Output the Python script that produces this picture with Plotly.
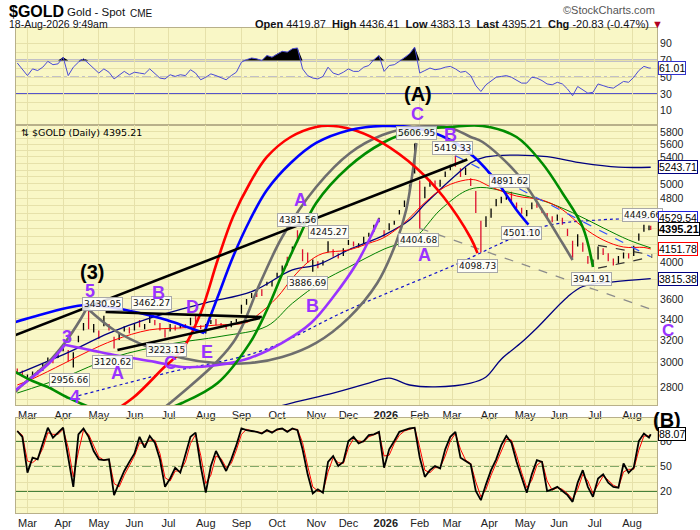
import numpy as np
import plotly.graph_objects as go

# ---------------- data ----------------
dates = [
 "2025-02-21","2025-02-26",
 "2025-03-03","2025-03-06","2025-03-11","2025-03-14","2025-03-19","2025-03-24","2025-03-27",
 "2025-04-01","2025-04-04","2025-04-09","2025-04-14","2025-04-17","2025-04-23","2025-04-28",
 "2025-05-01","2025-05-06","2025-05-09","2025-05-14","2025-05-19","2025-05-22","2025-05-28",
 "2025-06-02","2025-06-05","2025-06-10","2025-06-13","2025-06-18","2025-06-24","2025-06-27",
 "2025-07-02","2025-07-08","2025-07-11","2025-07-16","2025-07-21","2025-07-24","2025-07-29",
 "2025-08-01","2025-08-06","2025-08-11","2025-08-14","2025-08-19","2025-08-22","2025-08-27",
 "2025-09-02","2025-09-05","2025-09-10","2025-09-15","2025-09-18","2025-09-23","2025-09-26",
 "2025-10-01","2025-10-06","2025-10-09","2025-10-14","2025-10-17","2025-10-22","2025-10-27","2025-10-30",
 "2025-11-04","2025-11-07","2025-11-12","2025-11-17","2025-11-20","2025-11-25",
 "2025-12-01","2025-12-04","2025-12-09","2025-12-12","2025-12-17","2025-12-22","2025-12-26","2025-12-31",
 "2026-01-06","2026-01-09","2026-01-14","2026-01-20","2026-01-23","2026-01-28",
 "2026-02-02","2026-02-05","2026-02-10","2026-02-13","2026-02-19","2026-02-24","2026-02-27",
 "2026-03-04","2026-03-09","2026-03-12","2026-03-17","2026-03-20","2026-03-25","2026-03-30",
 "2026-04-02","2026-04-08","2026-04-13","2026-04-16","2026-04-21","2026-04-24","2026-04-29",
 "2026-05-04","2026-05-07","2026-05-12","2026-05-15","2026-05-20","2026-05-26","2026-05-29",
 "2026-06-03","2026-06-08","2026-06-11","2026-06-16","2026-06-22","2026-06-25","2026-06-30",
 "2026-07-06","2026-07-09","2026-07-14","2026-07-17","2026-07-22","2026-07-27","2026-07-30",
 "2026-08-04","2026-08-07","2026-08-12","2026-08-17","2026-08-18"]

bar_open = [2935,2920,
 2870,2895,2930,2940,3000,3025,3045,
 3110,3100,2980,3190,3300,3420,3290,
 3280,3340,3330,3220,3210,3290,3310,
 3300,3370,3320,3370,3380,3350,3290,
 3300,3330,3320,3340,3350,3400,3330,
 3290,3360,3390,3350,3330,3330,3380,
 3460,3550,3620,3645,3670,3745,3750,
 3840,3900,4040,4120,4330,4130,4100,3930,
 4000,3980,4120,4090,4080,4080,
 4210,4220,4190,4230,4310,4370,4490,4370,
 4390,4460,4590,4690,4910,5180,
 5000,4850,4980,5020,4980,5110,5220,
 5350,5200,5150,5060,4880,4450,4440,
 4560,4700,4760,4800,4860,4720,4650,
 4580,4660,4720,4650,4580,4550,4510,
 4530,4390,4230,4200,4220,4060,3970,
 4050,4140,4090,4030,4000,4050,4090,
 4080,4260,4370,4390,4419.87]
bar_high = [2950,2935,
 2900,2925,2935,2990,3045,3035,3090,
 3150,3110,3090,3240,3360,3500,3350,
 3290,3430,3350,3230,3260,3330,3320,
 3360,3390,3350,3450,3390,3360,3300,
 3350,3340,3350,3350,3410,3430,3340,
 3350,3390,3400,3360,3340,3380,3400,
 3540,3600,3660,3660,3700,3780,3790,
 3880,3960,4060,4180,4380,4150,4110,4030,
 4010,4020,4245,4150,4100,4160,
 4260,4240,4220,4300,4350,4450,4540,4380,
 4470,4500,4640,4770,4990,5610,
 5050,4960,5060,5050,5060,5180,5280,
 5420,5230,5240,5080,4900,4500,4560,
 4660,4790,4820,4880,4890,4740,4670,
 4640,4740,4740,4660,4600,4560,4580,
 4540,4400,4250,4330,4230,4070,4030,
 4180,4160,4100,4040,4070,4110,4100,
 4190,4340,4450,4440,4436.41]
bar_low = [2905,2885,
 2855,2880,2895,2930,2995,2995,3040,
 3100,3010,2960,3180,3290,3300,3270,
 3210,3330,3290,3125,3200,3280,3260,
 3290,3320,3300,3360,3340,3290,3225,
 3280,3290,3310,3310,3340,3350,3300,
 3260,3350,3340,3320,3300,3320,3370,
 3450,3540,3610,3620,3630,3740,3730,
 3830,3890,3960,4100,4230,4010,3990,3890,
 3930,3960,4110,4060,4040,4070,
 4200,4180,4170,4220,4300,4360,4480,4300,
 4380,4450,4580,4680,4900,5150,
 4400,4800,4960,4950,4960,5100,5200,
 5250,5100,5130,4970,4600,4110,4420,
 4540,4690,4730,4780,4760,4660,4590,
 4560,4650,4670,4600,4530,4480,4500,
 4450,4310,4050,4180,4120,3980,3945,
 4030,4080,4010,3960,3980,4040,4040,
 4070,4250,4360,4380,4383.13]
bar_close = [2925,2915,
 2885,2910,2915,2980,3030,3015,3080,
 3125,3035,3080,3215,3330,3370,3320,
 3240,3400,3320,3170,3240,3310,3285,
 3345,3350,3330,3420,3360,3300,3270,
 3330,3300,3340,3330,3395,3365,3310,
 3340,3375,3350,3335,3315,3370,3390,
 3530,3585,3640,3640,3650,3765,3760,
 3865,3950,3980,4150,4250,4100,4010,4000,
 3950,4000,4190,4080,4070,4140,
 4230,4200,4210,4290,4330,4440,4520,4330,
 4460,4490,4620,4750,4960,5350,
 4650,4880,5030,4990,5040,5150,5240,
 5300,5150,5180,5000,4640,4400,4520,
 4620,4760,4790,4820,4790,4690,4620,
 4610,4720,4700,4620,4560,4510,4560,
 4470,4330,4100,4310,4150,4000,3990,
 4160,4100,4040,3990,4050,4080,4060,
 4170,4320,4400,4416,4395.21]

rsi_vals = [67,60,
 52,60,58,62,69,65,66,
 74,52,62,68,72,66,61,
 55,60,56,48,52,57,53,
 56,55,54,60,55,49,48,
 53,51,53,52,59,55,47,
 50,54,52,49,47,52,56,
 68,71,73,72,70,76,74,
 78,81,80,84,85,60,52,49,
 48,51,62,55,53,56,
 60,57,57,62,64,71,76,57,
 64,65,69,73,78,86,
 55,58,61,59,60,62,63,
 60,56,57,52,40,33,41,
 46,50,51,52,50,46,43,
 43,50,49,46,42,41,44,
 42,36,28,39,35,31,32,
 42,40,38,37,41,45,44,
 50,58,63,61,61.01]

stoch_k = [92,85,
 42,60,58,78,96,84,90,
 96,60,25,88,95,85,68,
 58,57,58,15,30,44,55,
 65,85,72,86,78,58,25,
 35,48,42,62,85,90,50,
 18,50,68,55,44,58,75,
 95,93,92,91,89,93,90,
 94,95,91,95,93,70,40,17,
 22,18,55,62,50,55,
 80,85,77,80,87,88,91,48,
 70,80,91,93,95,96,
 60,37,45,50,47,70,85,
 91,60,56,52,20,9,28,
 45,58,75,86,78,55,35,
 18,40,57,55,20,22,25,
 20,15,7,30,45,25,13,
 35,40,30,25,24,53,42,
 48,80,89,84,88.07]
stoch_d = [92,87,
 56,54,59,71,90,88,88,
 94,72,37,67,93,88,74,
 61,57,58,29,25,39,51,
 62,78,76,81,81,65,36,
 32,44,44,55,77,88,63,
 29,39,62,59,48,53,69,
 88,94,92,91,90,92,91,
 93,95,92,94,94,78,50,25,
 20,19,43,60,54,53,
 72,83,80,79,85,88,90,62,
 63,77,87,92,94,96,
 72,45,42,48,48,62,80,
 89,70,57,53,31,13,22,
 39,54,69,82,81,63,42,
 24,33,51,56,32,21,24,
 22,17,10,22,40,32,17,
 28,38,33,27,24,43,46,
 46,69,86,86,87]

# moving averages / bands (read at selected dates)
red_ma_dates = ["2025-02-21","2025-03-06","2025-04-01","2025-04-23","2025-05-14","2025-06-13","2025-07-11",
 "2025-08-11","2025-09-05","2025-09-15","2025-10-01","2025-10-14","2025-10-27","2025-11-07","2025-12-01",
 "2025-12-17","2025-12-31","2026-01-20","2026-02-05","2026-02-24","2026-03-12","2026-03-20","2026-04-02",
 "2026-04-24","2026-05-15","2026-06-03","2026-06-22","2026-07-09","2026-07-27","2026-08-12","2026-08-18"]
red_ma_vals = [2815,2865,2990,3100,3200,3295,3313,3340,3365,3430,3615,3820,3995,4100,4140,4220,4290,4475,
 4740,4960,5056,5056,4956,4830,4775,4645,4420,4260,4175,4170,4151.78]

green_ma_dates = ["2025-02-21","2025-04-01","2025-05-14","2025-07-02","2025-08-14","2025-09-23","2025-10-14",
 "2025-11-07","2025-12-01","2025-12-31","2026-01-28","2026-02-19","2026-03-12","2026-03-25","2026-04-16",
 "2026-05-15","2026-06-11","2026-07-09","2026-07-30","2026-08-18"]
green_ma_vals = [2751,2875,3048,3165,3235,3330,3555,3790,3940,4150,4290,4641,4900,4950,4890,4770,4605,
 4410,4260,4165]

upper_band_dates = ["2025-02-21","2025-04-04","2025-05-09","2025-06-13","2025-08-01","2025-09-10","2025-10-14",
 "2025-11-04","2025-12-01","2025-12-31","2026-01-23","2026-02-05","2026-02-19","2026-03-04","2026-03-17",
 "2026-03-30","2026-04-24","2026-05-20","2026-06-22","2026-07-22","2026-08-18"]
upper_band_vals = [2905,3090,3265,3408,3560,3675,3910,3970,4140,4320,4510,4720,4920,5120,5310,5400,5430,
 5405,5305,5245,5243.71]

lower_band_dates = ["2025-08-27","2025-09-18","2025-10-14","2025-11-17","2025-12-17","2026-01-06","2026-01-23",
 "2026-02-13","2026-03-17","2026-03-30","2026-04-13","2026-04-29","2026-05-12","2026-06-08","2026-06-22",
 "2026-07-17","2026-08-18"]
lower_band_vals = [2540,2610,2675,2750,2830,2870,2815,2800,2830,2880,3030,3180,3313,3620,3730,3780,3815.38]

mid_band_dates = ["2025-04-14","2025-07-02","2025-09-18","2025-12-01","2026-02-27","2026-05-15","2026-07-06",
 "2026-08-18"]
mid_band_vals = [2730,2920,3105,3490,3945,4420,4510,4529.54]

# cycle arcs drawn on the chart
red_arc_dates = ["2025-05-01","2025-05-30","2025-06-26","2025-07-14","2025-07-29","2025-08-12","2025-08-25",
 "2025-09-09","2025-09-23","2025-10-13","2025-11-03","2025-11-17","2025-12-08","2025-12-30","2026-01-29",
 "2026-02-23","2026-03-17","2026-03-23"]
red_arc_vals = [2547,2712,2955,3111,3458,4023,4549,5013,5400,5717,5883,5900,5816,5620,5232,4816,4284,4103]

blue_arc1_dates = ["2025-02-20","2025-03-06","2025-04-03","2025-04-22","2025-05-09","2025-06-05","2025-06-30",
 "2025-07-17","2025-07-31"]
blue_arc1_vals = [3370,3418,3508,3537,3518,3458,3389,3322,3266]

blue_arc2_dates = ["2025-07-31","2025-08-12","2025-08-25","2025-09-09","2025-09-23","2025-10-13","2025-11-03",
 "2025-12-02","2025-12-30","2026-01-29","2026-02-27","2026-03-19","2026-04-09","2026-04-24","2026-05-05"]
blue_arc2_vals = [3266,3619,4058,4510,4914,5307,5620,5832,5900,5866,5668,5400,5013,4641,4450]

green_arc_dates = ["2025-02-20","2025-03-06","2025-03-19","2025-04-03","2025-05-01","2025-05-30","2025-06-13",
 "2025-07-14","2025-08-12","2025-09-09","2025-09-23","2025-10-07","2025-10-20","2025-11-03","2025-12-01",
 "2025-12-30","2026-01-29","2026-02-27","2026-03-26","2026-04-24","2026-05-15","2026-06-03","2026-06-22",
 "2026-06-30"]
green_arc_vals = [2921,2847,2799,2720,2620,2584,2590,2674,2831,3175,3487,3910,4296,4734,5247,5620,5832,
 5883,5900,5717,5307,4872,4417,3943]

gray_arc1_dates = ["2025-02-20","2025-02-25","2025-03-19","2025-04-02","2025-04-15","2025-04-22"]
gray_arc1_vals = [2760,2804,2999,3175,3389,3508]

gray_arc2_dates = ["2025-04-22","2025-05-14","2025-06-12","2025-07-14","2025-08-11","2025-09-09","2025-10-06",
 "2025-11-03","2025-12-01","2025-12-24","2026-01-12","2026-01-21","2026-01-27","2026-01-29"]
gray_arc2_vals = [3508,3294,3138,3041,2997,2997,3049,3175,3408,3767,4223,4641,5202,5620]

gray_arc3_dates = ["2025-06-06","2025-06-13","2025-07-14","2025-08-25","2025-09-17","2025-10-06","2025-11-03",
 "2025-12-02","2025-12-30","2026-01-29","2026-02-27","2026-03-17","2026-03-26","2026-04-24","2026-05-15",
 "2026-06-03","2026-06-11"]
gray_arc3_vals = [2547,2567,2751,3175,3767,4296,4956,5462,5750,5883,5866,5717,5636,5158,4641,4223,4023]

purple_arc1_dates = ["2025-02-20","2025-03-06","2025-03-20","2025-04-02"]
purple_arc1_vals = [2775,2880,3000,3157]

purple_arc2_dates = ["2025-04-02","2025-05-14","2025-06-18","2025-07-14","2025-08-12","2025-09-09","2025-10-06",
 "2025-10-29","2025-11-17","2025-12-08","2025-12-18","2025-12-26"]
purple_arc2_vals = [3157,3067,3007,2963,2980,3041,3175,3360,3619,3989,4296,4525]

# straight trend lines
trend_main_dates = ["2025-02-19","2026-03-13"];  trend_main_vals = [3240,5360]
trend_top_dates = ["2025-05-07","2025-09-18"];   trend_top_vals = [3467,3418]
trend_bot_dates = ["2025-05-16","2025-09-17"];   trend_bot_vals = [3111,3408]
blue_dash_dates = ["2026-03-04","2026-08-18"];   blue_dash_vals = [5420,4060]
gray_dash_dates = ["2026-02-02","2026-08-19"];   gray_dash_vals = [4404.68,3490]
tri_up_dates = ["2026-07-06","2026-08-19"];      tri_up_vals = [4195,4080]
tri_dn_dates = ["2026-07-06","2026-08-19"];      tri_dn_vals = [3930,4060]

month_ticks = ["2025-03-03","2025-04-01","2025-05-01","2025-06-02","2025-07-01","2025-08-01","2025-09-02",
 "2025-10-01","2025-11-03","2025-12-01","2026-01-02","2026-02-02","2026-03-02","2026-04-01","2026-05-01",
 "2026-06-01","2026-07-01","2026-08-03"]
month_labels = ["Mar","Apr","May","Jun","Jul","Aug","Sep","Oct","Nov","Dec","<b>2026</b>","Feb","Mar","Apr",
 "May","Jun","Jul","Aug"]

price_ticks = list(range(2700, 5901, 100))
price_labels = ["2800","3000","3200","3400","3600","4000","4800","5000","5400","5600","5800"]

holidays = ["2025-04-18","2025-05-26","2025-06-19","2025-07-04","2025-09-01","2025-11-27","2025-12-25",
 "2026-01-01","2026-01-19","2026-02-16","2026-04-03","2026-05-25","2026-06-19","2026-07-03"]

# ---------------- styling ----------------
BG = "#F9F7C6"
GRID = "#E6E1AA"
FRAME = "#B8B08A"
PURPLE = "#9933FF"
FONT = "Liberation Sans"

fig = go.Figure()
n = len(dates)

# RSI panel
fig.add_trace(go.Scatter(x=dates, y=[70] * n, xaxis="x", yaxis="y", mode="lines",
                         line=dict(width=0, color="rgba(0,0,0,0)"), hoverinfo="skip"))
fig.add_trace(go.Scatter(x=dates, y=np.maximum(np.array(rsi_vals, dtype=float), 70), xaxis="x", yaxis="y",
                         mode="lines", line=dict(width=0, color="rgba(0,0,0,0)"), fill="tonexty",
                         fillcolor="black", hoverinfo="skip"))
fig.add_trace(go.Scatter(x=dates, y=rsi_vals, xaxis="x", yaxis="y", mode="lines",
                         line=dict(color="#4A4AD6", width=1), hoverinfo="skip"))


def main_line(xs, ys, color, width, dash="solid", shape="linear"):
    fig.add_trace(go.Scatter(x=xs, y=ys, xaxis="x2", yaxis="y2", mode="lines",
                             line=dict(color=color, width=width, dash=dash, shape=shape), hoverinfo="skip"))


# overlays under the bars
main_line(mid_band_dates, mid_band_vals, "#1010CC", 1.2, "dot", "spline")
main_line(upper_band_dates, upper_band_vals, "#000080", 1.3, shape="spline")
main_line(lower_band_dates, lower_band_vals, "#000080", 1.3, shape="spline")
main_line(green_ma_dates, green_ma_vals, "#008000", 1, shape="spline")
main_line(red_ma_dates, red_ma_vals, "#FF0000", 1, shape="spline")

fig.add_trace(go.Ohlc(x=dates, open=bar_open, high=bar_high, low=bar_low, close=bar_close,
                      xaxis="x2", yaxis="y2", tickwidth=0.35, hoverinfo="skip",
                      increasing=dict(line=dict(color="#000000", width=1.3)),
                      decreasing=dict(line=dict(color="#DD1030", width=1.3))))

# dashed trend lines
main_line(blue_dash_dates, blue_dash_vals, "#3050FF", 1.2, "dash")
main_line(gray_dash_dates, gray_dash_vals, "#8C8C8C", 1.3, "dash")
main_line(tri_up_dates, tri_up_vals, "#333333", 1.2, "dash")
main_line(tri_dn_dates, tri_dn_vals, "#333333", 1.2, "dash")

# cycle arcs
W = 2.6
main_line(gray_arc1_dates, gray_arc1_vals, "#6E6E6E", W, shape="spline")
main_line(gray_arc2_dates, gray_arc2_vals, "#6E6E6E", W, shape="spline")
main_line(gray_arc3_dates, gray_arc3_vals, "#6E6E6E", W, shape="spline")
main_line(purple_arc1_dates, purple_arc1_vals, PURPLE, W, shape="spline")
main_line(purple_arc2_dates, purple_arc2_vals, PURPLE, W, shape="spline")
main_line(green_arc_dates, green_arc_vals, "#008C00", W, shape="spline")
main_line(red_arc_dates, red_arc_vals, "#FF0000", W, shape="spline")
main_line(blue_arc1_dates, blue_arc1_vals, "#0000FF", W, shape="spline")
main_line(blue_arc2_dates, blue_arc2_vals, "#0000FF", W, shape="spline")

# solid trend lines
main_line(trend_main_dates, trend_main_vals, "#000000", W)
main_line(trend_top_dates, trend_top_vals, "#000000", W)
main_line(trend_bot_dates, trend_bot_vals, "#000000", W)

# Stochastic panel
fig.add_trace(go.Scatter(x=dates, y=stoch_d, xaxis="x3", yaxis="y3", mode="lines",
                         line=dict(color="#FF0000", width=1), hoverinfo="skip"))
fig.add_trace(go.Scatter(x=dates, y=stoch_k, xaxis="x3", yaxis="y3", mode="lines",
                         line=dict(color="#000000", width=1.8), hoverinfo="skip"))

# ---------------- axes ----------------
x_range = ["2025-02-20 06:00", "2026-08-21 17:00"]
breaks = [dict(bounds=["sat", "mon"]), dict(values=holidays)]


def xaxis(anchor, labels):
    return dict(anchor=anchor, domain=[0, 1], type="date", range=x_range, rangebreaks=breaks,
                tickmode="array", tickvals=month_ticks, ticktext=month_labels, showticklabels=labels,
                ticks="", tickfont=dict(family=FONT, size=11, color="#222"),
                showgrid=True, gridcolor=GRID, gridwidth=1, zeroline=False,
                showline=True, mirror=True, linecolor=FRAME, linewidth=1, automargin=False,
                rangeslider=dict(visible=False))


main_text = [str(v) if str(v) in price_labels else "" for v in price_ticks]

yfont = dict(family=FONT, size=10.5, color="#222")
layout_axes = dict(
    xaxis=xaxis("y", False),
    xaxis2=xaxis("y2", True),
    xaxis3=xaxis("y3", True),
    yaxis=dict(domain=[0.8, 1.0], range=[-7, 108.8], side="right", anchor="x",
               tickmode="array", tickvals=list(range(10, 100, 10)),
               ticktext=["10", "", "30", "", "50", "", "70", "", "90"], tickfont=yfont, ticks="",
               showgrid=True, gridcolor=GRID, zeroline=False, showline=True, mirror=True,
               linecolor=FRAME, automargin=False),
    yaxis2=dict(domain=[0.2227, 0.8], type="log", range=[3.42466, 3.77206], side="right", anchor="x2",
                tickmode="array", tickvals=price_ticks, ticktext=main_text, tickfont=yfont, ticks="",
                showgrid=True, gridcolor=GRID, zeroline=False, showline=True, mirror=True,
                linecolor=FRAME, automargin=False),
    yaxis3=dict(domain=[0, 0.1959], range=[-6.4, 107.6], side="right", anchor="x3",
                tickmode="array", tickvals=list(range(0, 101, 10)),
                ticktext=["", "", "20", "", "", "50", "", "", "80", "", ""], tickfont=yfont, ticks="",
                showgrid=True, gridcolor=GRID, zeroline=False, showline=True, mirror=True,
                linecolor=FRAME, automargin=False),
)

# reference lines on oscillators
shapes = []
for v, d in [(70, "solid"), (50, "dashdot"), (30, "solid")]:
    shapes.append(dict(type="line", xref="x domain", x0=0, x1=1, yref="y", y0=v, y1=v, layer="below",
                       line=dict(color="#1F1FCC", width=1.4 if d == "solid" else 1.2, dash=d)))
for v, d in [(80, "solid"), (50, "dashdot"), (20, "solid")]:
    shapes.append(dict(type="line", xref="x3 domain", x0=0, x1=1, yref="y3", y0=v, y1=v, layer="below",
                       line=dict(color="#0B5A0B", width=1.4 if d == "solid" else 1.2, dash=d)))

# ---------------- annotations ----------------
ann = []


def paper(px, py):
    return (px - 16) / 641.0, (513 - py) / 485.0


def ptext(px, py, text, size, color="#111", bold=False, anchor="left", family=FONT):
    x, y = paper(px, py)
    ann.append(dict(xref="paper", yref="paper", x=x, y=y, xanchor=anchor, yanchor="middle",
                    text=("<b>%s</b>" % text) if bold else text, showarrow=False,
                    font=dict(family=family, size=size, color=color)))


# header
ptext(7, 12, "$GOLD", 16, "#000", True, family="Liberation Sans Narrow, Liberation Sans")
ptext(65, 12, "Gold - Spot", 11.5)
ptext(128, 13, "CME", 10)
ptext(7, 24, "18-Aug-2026 9:49am", 10.5)
ptext(657, 10, "\u00a9StockCharts.com", 11, "#555", anchor="right")
S = "\u00a0"
hdr = ("<b>Open</b>" + S + "4419.87" + S * 2 + "<b>High</b>" + S + "4436.41" + S * 2 + "<b>Low</b>" + S +
       "4383.13" + S * 2 + "<b>Last</b>" + S + "4395.21" + S * 2 + "<b>Chg</b>" + S + "-20.83" + S +
       "(-0.47%)" + S + "<span style='color:#B00020'>\u25bc</span>")
ptext(665, 24, hdr, 11, anchor="right")
ptext(19, 132, "\u21c5 $GOLD (Daily) 4395.21", 9.5, "#000", family="DejaVu Sans")

# high/low value tags
tags = [("3430.95", "2025-05-05", 3548), ("3462.27", "2025-06-16", 3558), ("3120.62", "2025-05-13", 3007),
        ("2956.66", "2025-04-07", 2855), ("3223.15", "2025-06-30", 3111), ("4381.56", "2025-10-17", 4510),
        ("4245.27", "2025-11-12", 4358), ("3886.69", "2025-10-27", 3770), ("5606.95", "2026-01-29", 5784),
        ("5419.33", "2026-03-02", 5547), ("4891.62", "2026-04-20", 5040), ("4404.68", "2026-01-30", 4260),
        ("4098.73", "2026-03-23", 3955), ("4501.10", "2026-04-29", 4346), ("3941.91", "2026-06-29", 3811),
        ("4449.66", "2026-08-11", 4570)]
for t, d, p in tags:
    ann.append(dict(xref="x2", yref="y2", x=d, y=np.log10(p), text=t, showarrow=False,
                    bgcolor="rgba(255,255,255,0.85)", bordercolor="#A8A8A8", borderwidth=1, borderpad=1,
                    font=dict(family="DejaVu Sans", size=9, color="#111")))

# wave labels
waves = [("5", "2025-04-24", 3680), ("3", "2025-04-03", 3228), ("4", "2025-04-10", 2720),
         ("A", "2025-05-16", 2912), ("B", "2025-06-23", 3661), ("C", "2025-07-02", 2999),
         ("D", "2025-07-22", 3518), ("E", "2025-08-04", 3093), ("A", "2025-10-21", 4775),
         ("B", "2025-10-30", 3528), ("B", "2026-02-27", 5752), ("A", "2026-02-05", 4081)]
for t, d, p in waves:
    ann.append(dict(xref="x2", yref="y2", x=d, y=np.log10(p), text="<b>%s</b>" % t, showarrow=False,
                    font=dict(family=FONT, size=18, color=PURPLE)))
ann.append(dict(xref="x2", yref="y2", x="2025-04-25", y=np.log10(3887), text="<b>(3)</b>", showarrow=False,
                font=dict(family=FONT, size=20, color="#000")))
ptext(417, 114, "C", 18, PURPLE, True, anchor="center")
ptext(668, 330, "C", 17, PURPLE, True, anchor="center")
ptext(418, 94, "(A)", 20, "#000", True, anchor="center")
ptext(667, 420, "(B)", 20, "#000", True, anchor="center")

# last-value boxes on the right axis
boxes = [("y", 61.01, "61.01", "#3333CC", False),
         ("y2", np.log10(5243.71), "5243.71", "#000080", False),
         ("y2", np.log10(4529.54), "4529.54", "#2020DD", False),
         ("y2", np.log10(4151.78), "4151.78", "#FF0000", False),
         ("y2", np.log10(3815.38), "3815.38", "#000080", False),
         ("y2", np.log10(4395.21), "4395.21", "#000000", True),
         ("y3", 88.07, "88.07", "#000000", False)]
for yr, y, t, c, b in boxes:
    ann.append(dict(xref="paper", yref=yr, x=1.0, y=y, xanchor="left", xshift=1, showarrow=False,
                    text=("<b>%s</b>" % t) if b else t, bgcolor="#FFFFFF", bordercolor=c, borderwidth=1,
                    borderpad=0, font=dict(family=FONT, size=10.5 if not b else 11, color="#000")))

fig.update_layout(
    width=700, height=530, template="none",
    margin=dict(l=16, r=43, t=28, b=17, autoexpand=False),
    paper_bgcolor="#FFFFFF", plot_bgcolor=BG,
    showlegend=False, hovermode=False,
    font=dict(family=FONT, size=11, color="#222"),
    shapes=shapes, annotations=ann,
    **layout_axes,
)

fig.write_html("out.html", config=dict(displayModeBar=False),
               post_script="document.body.style.margin='0';document.body.style.padding='0';")
